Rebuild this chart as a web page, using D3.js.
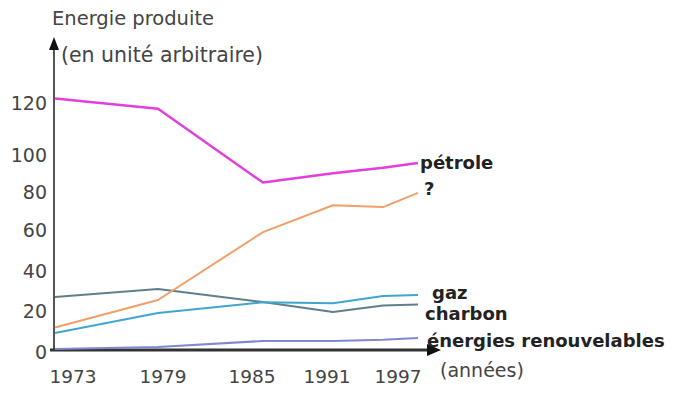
<!DOCTYPE html>
<html><head><meta charset="utf-8">
<script src="https://cdn.jsdelivr.net/npm/d3@7"></script>
<style>body{margin:0;background:#fff}svg{display:block}</style>
</head><body>
<svg id="c" width="673" height="396"></svg>
<script>
// ---- data ----
const years = [1973, 1979, 1985, 1991, 1995, 1997];
const petrole = [121, 117, 84, 89, 92, 94.6];
const inconnu = [11, 24.5, 58, 72, 71, 78.5];
const charbon = [26, 30, 23.5, 18.5, 21.7, 22.2];
const gaz = [8.3, 18, 23.4, 22.9, 26.5, 27];
const renouvelables = [0.5, 1.5, 4.4, 4.4, 5, 5.9];
const seriesNames = ["pétrole", "?", "gaz", "charbon", "énergies renouvelables"];
const yTicks = [0, 20, 40, 60, 80, 100, 120];
const xTicks = [1973, 1979, 1985, 1991, 1997];
const yTitle1 = "Energie produite";
const yTitle2 = "(en unité arbitraire)";
const xTitle = "(années)";

// ---- scales (the drawing is hand-scaled, hence polylinear) ----
const x = d3.scaleLinear().domain(years).range([55, 158, 263, 333, 383, 418]);
const xLab = d3.scaleLinear().domain(xTicks).range([73, 163, 252, 327, 398]);
const y = d3.scaleLinear().domain(yTicks).range([350, 309, 269, 228, 190, 153, 101]);

const svg = d3.select("#c");
const font = "'DejaVu Sans', Verdana, sans-serif";

// axes
svg.append("line").attr("x1", 54).attr("x2", 54).attr("y1", 350).attr("y2", 46)
  .attr("stroke", "#555").attr("stroke-width", 2);
svg.append("path").attr("d", "M54,37 L49,50 L59,50 Z").attr("fill", "#111");
svg.append("line").attr("x1", 50).attr("x2", 430).attr("y1", 350).attr("y2", 350)
  .attr("stroke", "#333").attr("stroke-width", 3);
svg.append("path").attr("d", "M441,350 L427,344 L427,356 Z").attr("fill", "#111");

// y tick labels
svg.append("g").selectAll("text").data(yTicks).join("text")
  .attr("x", 47).attr("y", d => y(d) + 2)
  .attr("text-anchor", "end").attr("dominant-baseline", "central")
  .attr("font-family", font).attr("font-size", 19).attr("fill", "#444")
  .text(d => d);
// x tick labels
svg.append("g").selectAll("text").data(xTicks).join("text")
  .attr("x", d => xLab(d)).attr("y", 376)
  .attr("text-anchor", "middle").attr("dominant-baseline", "central")
  .attr("font-family", font).attr("font-size", 18.5).attr("fill", "#444")
  .text(d => d);

// titles
svg.append("text").attr("x", 52).attr("y", 18).attr("dominant-baseline", "central")
  .attr("font-family", font).attr("font-size", 19.5).attr("fill", "#444").text(yTitle1);
svg.append("text").attr("x", 61).attr("y", 55).attr("dominant-baseline", "central")
  .attr("font-family", font).attr("font-size", 20.5).attr("fill", "#444").text(yTitle2);
svg.append("text").attr("x", 440).attr("y", 370).attr("dominant-baseline", "central")
  .attr("font-family", font).attr("font-size", 19).attr("fill", "#444").text(xTitle);

// lines
const line = d3.line().x((d, i) => x(years[i])).y(d => y(d));
const series = [
  {v: renouvelables, c: "#8088cc", w: 2},
  {v: charbon, c: "#5f7f8c", w: 2},
  {v: gaz, c: "#3fa6cf", w: 2},
  {v: inconnu, c: "#f0a068", w: 2},
  {v: petrole, c: "#e23fdc", w: 2.5}
];
svg.append("g").selectAll("path").data(series).join("path")
  .attr("d", d => line(d.v)).attr("fill", "none")
  .attr("stroke", d => d.c).attr("stroke-width", d => d.w)
  .attr("stroke-linejoin", "round");

// series labels
const labelPos = [
  {t: seriesNames[0], x: 420, y: 162},
  {t: seriesNames[1], x: 424, y: 188},
  {t: seriesNames[2], x: 432, y: 292},
  {t: seriesNames[3], x: 425, y: 313},
  {t: seriesNames[4], x: 427, y: 340}
];
svg.append("g").selectAll("text").data(labelPos).join("text")
  .attr("x", d => d.x).attr("y", d => d.y).attr("dominant-baseline", "central")
  .attr("font-family", font).attr("font-weight", "bold").attr("font-size", 18)
  .attr("fill", "#222").text(d => d.t);
</script>
</body></html>
